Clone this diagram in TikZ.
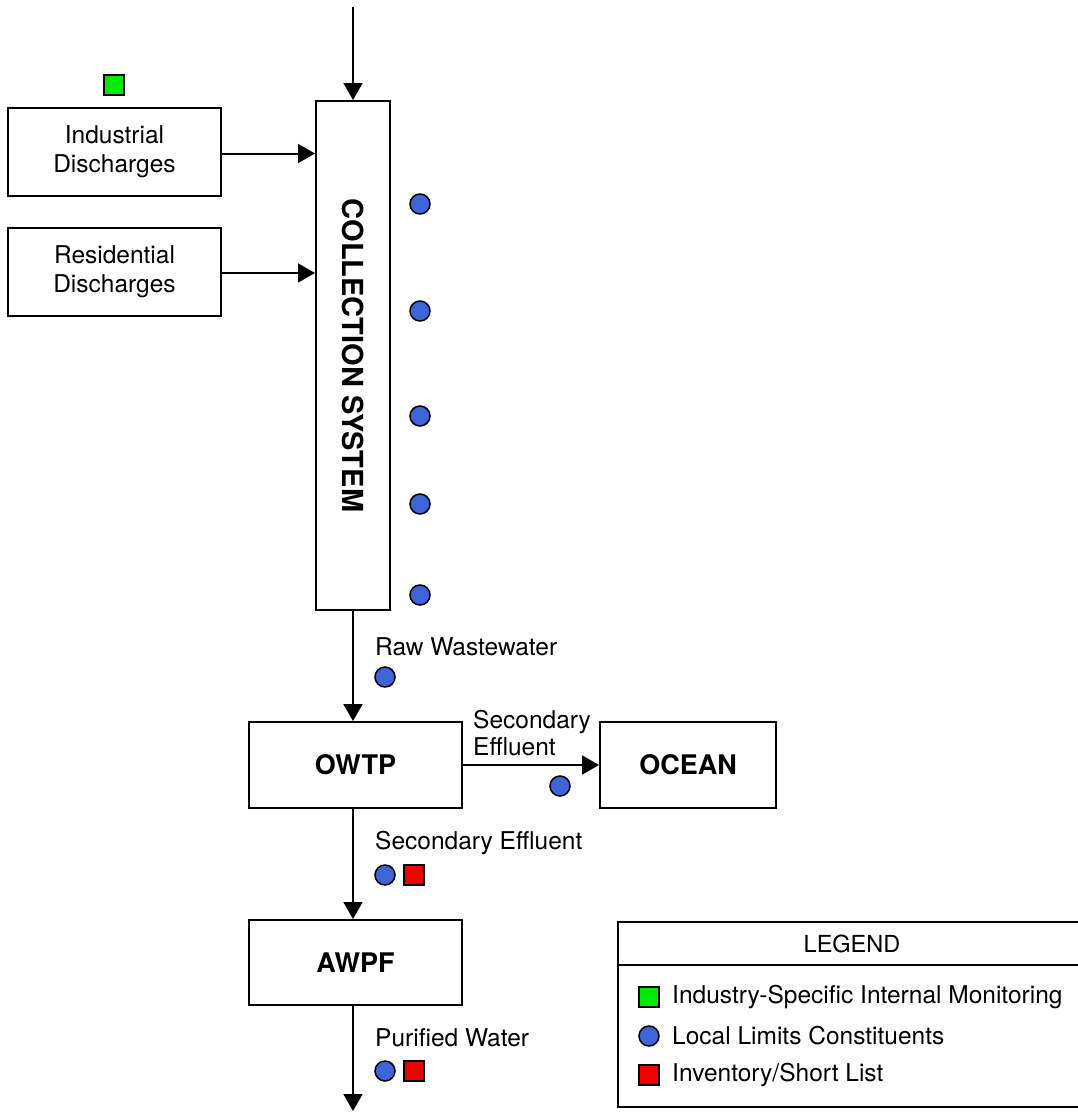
\documentclass[tikz,border=0pt]{standalone}
\usepackage{fontspec}
\setmainfont{TeX Gyre Heros}
\usetikzlibrary{arrows.meta}
\definecolor{mblue}{RGB}{62,100,218}
\definecolor{mgreen}{RGB}{0,235,0}
\definecolor{mred}{RGB}{240,0,0}
\begin{document}
\begin{tikzpicture}[x=1pt,y=-1pt,
  box/.style={draw,line width=2pt,inner sep=0pt,align=center,
    font=\fontsize{24.5}{29}\selectfont},
  unit/.style={box,font=\fontsize{27}{32}\selectfont\bfseries},
  flow/.style={line width=2pt,-{Triangle[length=17pt,width=19pt]}},
  dot/.style={circle,draw,line width=1.5pt,fill=mblue,minimum size=20pt,inner sep=0pt},
  sq/.style={rectangle,draw,line width=1.5pt,minimum size=20pt,inner sep=0pt},
  lbl/.style={inner sep=0pt,anchor=west,align=left,
    font=\fontsize{24.5}{27}\selectfont}]
\useasboundingbox (0,0) rectangle (1078,1112);

% process boxes
\node[box,minimum width=74pt,minimum height=509pt] (cs) at (353,355.5) {};
\node[rotate=-90,inner sep=0pt,font=\fontsize{29}{30}\selectfont\bfseries]
  (cslbl) at (cs.center) {COLLECTION SYSTEM};
\node[box,minimum width=213pt,minimum height=88pt] (ind) at (114.5,152) {Industrial\\Discharges};
\node[box,minimum width=213pt,minimum height=88pt] (res) at (114.5,272) {Residential\\Discharges};
\node[unit,minimum width=213pt,minimum height=86pt] (owtp) at (355.5,765) {OWTP};
\node[unit,minimum width=176pt,minimum height=86pt] (ocean) at (688,765) {OCEAN};
\node[unit,minimum width=213pt,minimum height=85pt] (awpf) at (355.5,962.5) {AWPF};

% flows
\coordinate (src) at (353,7);
\coordinate (out) at (353,1111);
\draw[flow] (src) -- (cs.north);
\draw[flow] ([yshift=-1.5pt]ind.east) -- ([yshift=-1.5pt]ind.east -| cs.west);
\draw[flow] ([yshift=-1pt]res.east) -- ([yshift=-1pt]res.east -| cs.west);
\draw[flow] (cs.south) -- (cs.south |- owtp.north);
\draw[flow] (owtp.east) -- (ocean.west);
\draw[flow] (cs.south |- owtp.south) -- (cs.south |- awpf.north);
\draw[flow] (cs.south |- awpf.south) -- (out);

% flow labels
\node[lbl] (rawlbl) at (375,647) {Raw Wastewater};
\node[lbl] (seclbl) at (473,733) {Secondary\\Effluent};
\node[lbl] (sec2lbl) at (375,843) {Secondary Effluent};
\node[lbl] (purlbl) at (375,1038) {Purified Water};

% monitoring markers
\node[sq,fill=mgreen] (gind) at (114,85) {};
\foreach \yy [count=\i] in {204,311,416,504,595}
  \node[dot] (bcs\i) at (420,\yy) {};
\node[dot] (braw) at (385,677) {};
\node[dot] (bsea) at (560,786) {};
\node[dot] (bsec) at (385,875) {};
\node[sq,fill=mred] (rsec) at (414,875) {};
\node[dot] (bpur) at (385,1071) {};
\node[sq,fill=mred] (rpur) at (414,1071) {};

% legend
\draw[line width=2pt] (1078,922) -| (618,1107) -- (1078,1107);
\draw[line width=2pt] (618,965) -- (1078,965);
\node[inner sep=0pt,font=\fontsize{23.5}{27}\selectfont] (legtitle) at (852,944) {LEGEND};
\node[sq,fill=mgreen] (lg) at (649,997) {};
\node[dot] (lb) at (649,1036) {};
\node[sq,fill=mred] (lr) at (649,1075) {};
\node[lbl] (lgt) at (672,997) {Industry-Specific Internal Monitoring};
\node[lbl] (lbt) at (672,1036) {Local Limits Constituents};
\node[lbl] (lrt) at (672,1075) {Inventory/Short List};
\end{tikzpicture}
\end{document}
